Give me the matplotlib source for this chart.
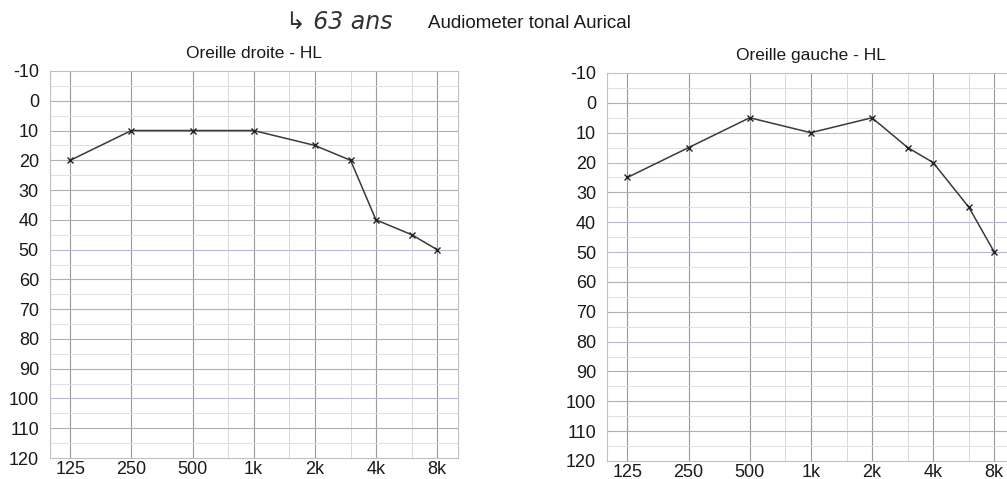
import numpy as np
import matplotlib.pyplot as plt

plt.rcParams['font.family'] = ['Liberation Sans', 'DejaVu Sans']
plt.rcParams['axes.unicode_minus'] = False

freqs = [125, 250, 500, 1000, 2000, 3000, 4000, 6000, 8000]
hl_droite = [20, 10, 10, 10, 15, 20, 40, 45, 50]
hl_gauche = [25, 15, 5, 10, 5, 15, 20, 35, 50]

octave_ticks = [125, 250, 500, 1000, 2000, 4000, 8000]
octave_labels = ['125', '250', '500', '1k', '2k', '4k', '8k']
mid_ticks = [750, 1500, 3000, 6000]
db_ticks = list(range(-10, 130, 10))
lilac_droite = [50, 100]
lilac_gauche = [10, 20, 40, 50, 80]


def audiogram(ax, title, hl, lilac):
    ax.set_xscale('log', base=2)
    ax.set_xlim(125 * 2 ** -0.33, 8000 * 2 ** 0.34)
    ax.set_ylim(120, -10)
    for f in octave_ticks:
        ax.axvline(f, color='#9a9a9a', lw=0.8, zorder=1)
    for f in mid_ticks:
        ax.axvline(f, color='#d8d8d8', lw=0.7, zorder=1)
    for d in range(-5, 120, 10):
        ax.axhline(d, color='#e0e0e0', lw=0.7, zorder=1)
    for d in db_ticks[1:-1]:
        c = '#c4b4d6' if d in lilac else '#b0b0b0'
        ax.axhline(d, color=c, lw=0.8, zorder=1)
    ax.plot(freqs, hl, color='#3a3a3a', lw=1.1, marker='x',
            ms=4, mew=1.0, mec='#222222', zorder=3)
    ax.set_xticks(octave_ticks)
    ax.set_xticklabels(octave_labels)
    ax.xaxis.set_minor_locator(plt.NullLocator())
    ax.set_yticks(db_ticks)
    ax.tick_params(length=0, labelsize=13, colors='#1a1a1a', pad=8)
    ax.tick_params(axis='x', pad=2)
    for s in ax.spines.values():
        s.set_color('#c0c0c0')
        s.set_linewidth(0.8)
    ax.set_title(title, fontsize=12.5, color='#1a1a1a', pad=9)


fig = plt.figure(figsize=(10.07, 4.79), dpi=100)
ax1 = fig.add_axes([0.0497, 0.0438, 0.405, 0.808])
ax2 = fig.add_axes([0.603, 0.0376, 0.405, 0.810])
audiogram(ax1, 'Oreille droite - HL', hl_droite, lilac_droite)
audiogram(ax2, 'Oreille gauche - HL', hl_gauche, lilac_gauche)

fig.text(0.425, 0.951, 'Audiometer tonal Aurical', fontsize=13.5,
         color='#1a1a1a', ha='left', va='center')
fig.text(0.284, 0.955, '\u21b3 63 ans', fontsize=17, style='italic',
         family=['DejaVu Sans'], color='#333333', ha='left', va='center')

fig.savefig('out.png', dpi=100)
